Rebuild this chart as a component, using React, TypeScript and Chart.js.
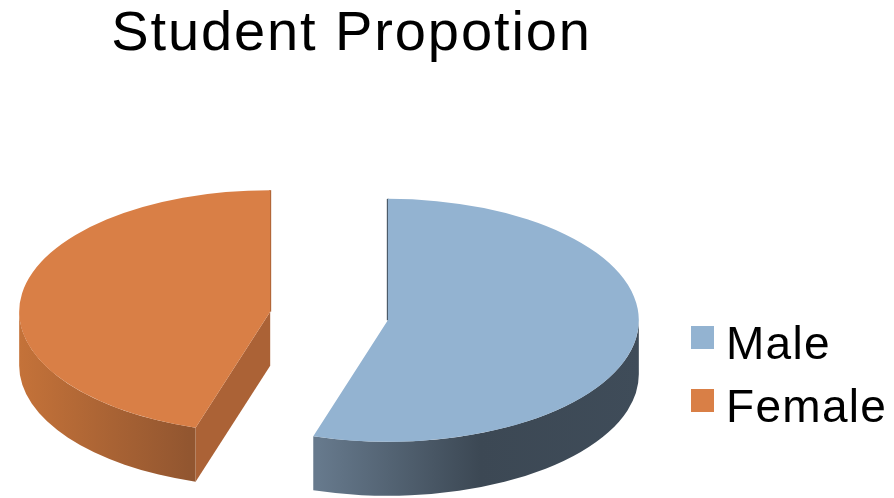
import React, { useEffect, useRef } from "react";
import { Chart } from "chart.js/auto";

const WIDTH = 894;
const HEIGHT = 498;

const titleText = "Student Propotion";
const categories = ["Male", "Female"];
const shares = [54.8, 45.2];
const topColors = ["#93B3D1", "#D97F46"];
const explode = [59.5, 59.5];

const PIE_RADIUS = 251;
const PIE_CENTER_X = 329;
const PIE_CENTER_Y = 316;
const TILT = 0.484;
const DEPTH = 54;

// Horizontal shading of the curved rim, as [x, colour] stops per slice.
const rimShades: [number, string][][] = [
  [[319, "#66798C"], [480, "#3C4854"], [640, "#3F4C59"]],
  [[20, "#C47239"], [189, "#925630"]],
];
const cutShades = ["#3C4854", "#AB6236"];

function swatch(color: string) {
  const c = document.createElement("canvas");
  c.width = 30;
  c.height = 41;
  const g = c.getContext("2d")!;
  g.fillStyle = color;
  g.fillRect(7, 0, 23, 23);
  return c;
}

function withSpacing(box: any, ctx: any, spacing: string) {
  const draw = box.draw.bind(box);
  box.draw = (...args: any[]) => {
    ctx.save();
    ctx.letterSpacing = spacing;
    draw(...args);
    ctx.restore();
  };
}

// Lays out the title, the legend and the pie's area by hand.
const placement = {
  id: "placement",
  afterLayout(chart: any) {
    const t = chart.titleBlock;
    t.left = 0;
    t.right = 703;
    t.top = 1;
    const l = chart.legend;
    l.left = 678;
    l.right = 894;
    l.top = 306.5;
    l.bottom = 498;
    if (!t.spaced) {
      t.spaced = true;
      withSpacing(t, chart.ctx, "1.9px");
      withSpacing(l, chart.ctx, "1.3px");
    }
    const half = 300;
    chart.chartArea = {
      left: PIE_CENTER_X - half,
      right: PIE_CENTER_X + half,
      top: PIE_CENTER_Y - half,
      bottom: PIE_CENTER_Y + half,
      width: half * 2,
      height: half * 2,
    };
  },
};

// Where an exploded slice's apex lands on the tilted plane.
function apexOf(arc: any, i: number) {
  const mid = (arc.startAngle + arc.endAngle) / 2;
  return {
    ox: arc.x + Math.cos(mid) * explode[i],
    oy: arc.y + Math.sin(mid) * explode[i] * TILT,
  };
}

// Draws each slice pulled out of the pie, tilted, with its extruded sides below it.
const extrusion = {
  id: "extrusion",
  beforeDatasetDraw(chart: any) {
    const ctx = chart.ctx;
    const arcs = chart.getDatasetMeta(0).data;
    arcs.forEach((arc: any, i: number) => {
      const { startAngle: s, endAngle: e, outerRadius: r } = arc;
      const { ox, oy } = apexOf(arc, i);

      const a0 = Math.max(s, 0);
      const a1 = Math.min(e, Math.PI);
      if (a1 > a0) {
        const stops = rimShades[i];
        const from = stops[0][0];
        const to = stops[stops.length - 1][0];
        const g = ctx.createLinearGradient(from, 0, to, 0);
        stops.forEach(([sx, col]) => g.addColorStop((sx - from) / (to - from), col));
        ctx.beginPath();
        ctx.ellipse(ox, oy, r, r * TILT, 0, a0, a1);
        ctx.ellipse(ox, oy + DEPTH, r, r * TILT, 0, a1, a0, true);
        ctx.closePath();
        ctx.fillStyle = g;
        ctx.fill();
      }

      // A straight cut shows as a wall when it faces the viewer, else as a thin edge.
      [s, e].forEach((a, k) => {
        const facing = k === 0 ? -Math.cos(a) : Math.cos(a);
        const px = ox + Math.cos(a) * r;
        const py = oy + Math.sin(a) * r * TILT;
        if (facing > 0.01) {
          ctx.beginPath();
          ctx.moveTo(ox, oy);
          ctx.lineTo(px, py);
          ctx.lineTo(px, py + DEPTH);
          ctx.lineTo(ox, oy + DEPTH);
          ctx.closePath();
          ctx.fillStyle = cutShades[i];
          ctx.fill();
        } else if (Math.abs(facing) <= 0.01) {
          ctx.beginPath();
          ctx.moveTo(ox, oy);
          ctx.lineTo(px, py);
          ctx.strokeStyle = cutShades[i];
          ctx.lineWidth = 2;
          ctx.stroke();
        }
      });

      ctx.save();
      ctx.translate(ox, oy);
      ctx.scale(1, TILT);
      ctx.translate(-arc.x, -arc.y);
      arc.draw(ctx);
      ctx.restore();
    });
    return false;
  },
};

export default function App() {
  const ref = useRef<HTMLCanvasElement>(null);

  useEffect(() => {
    const chart = new Chart(ref.current!, {
      type: "pie",
      data: {
        labels: categories,
        datasets: [
          {
            data: shares,
            backgroundColor: topColors,
            borderWidth: 0,
            radius: PIE_RADIUS,
            clip: false,
          } as any,
        ],
      },
      options: {
        responsive: false,
        animation: false,
        plugins: {
          tooltip: { enabled: false },
          title: {
            display: true,
            text: titleText,
            color: "#000000",
            padding: 0,
            font: { family: "'Liberation Sans'", size: 56, weight: "normal" },
          },
          legend: {
            position: "right",
            align: "start",
            labels: {
              color: "#000000",
              font: { family: "'Liberation Sans'", size: 46 },
              boxWidth: 8,
              padding: 17,
              usePointStyle: true,
              generateLabels: (c: any) =>
                (Chart as any).overrides.doughnut.plugins.legend.labels
                  .generateLabels(c)
                  .map((item: any, i: number) => ({ ...item, pointStyle: swatch(topColors[i]) })),
            },
          },
        },
      },
      plugins: [placement, extrusion],
    } as any);
    return () => chart.destroy();
  }, []);

  return (
    <div style={{ position: "absolute", left: 0, top: 0, width: WIDTH, height: HEIGHT, background: "#ffffff" }}>
      <canvas ref={ref} width={WIDTH} height={HEIGHT} style={{ display: "block" }} />
    </div>
  );
}
